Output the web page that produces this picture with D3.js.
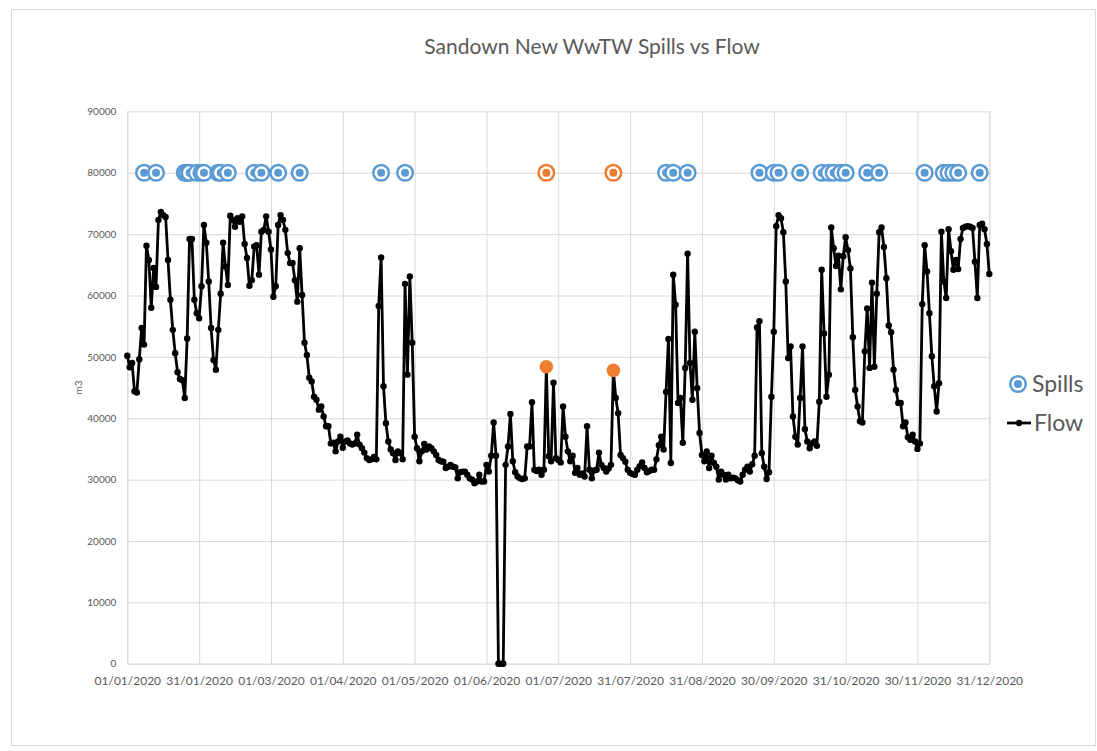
<!DOCTYPE html>
<html>
<head>
<meta charset="utf-8">
<script src="https://cdn.jsdelivr.net/npm/d3@7"></script>
<style>
  html, body { margin: 0; padding: 0; background: #fff; }
  svg { display: block; font-family: Lato, "Open Sans", sans-serif; }
</style>
</head>
<body>
<svg id="chart" width="1097" height="751"></svg>
<script>
// Daily flow at Sandown New WwTW (m3), one value per recorded day
const flow = [
  50200, 48300, 49000, 44400, 44200, 49600, 54700, 52000, 68100, 65800,
  58000, 64500, 61400, 72300, 73600, 73100, 72800, 65800, 59300, 54400,
  50600, 47500, 46400, 46200, 43300, 53000, 69200, 69200, 59300, 57100,
  56300, 61500, 71500, 68600, 62300, 54700, 49500, 47900, 54400, 60300,
  68600, 64700, 61700, 73000, 72300, 71200, 72600, 72000, 72900, 68400,
  66100, 61600, 62500, 68000, 68200, 63400, 70400, 70700, 72900, 70400,
  67500, 59800, 61500, 71500, 73100, 72300, 70700, 66900, 65300, 65300,
  62500, 59000, 67700, 60100, 52300, 50300, 46600, 46000, 43500, 43000,
  41400, 41900, 40300, 38700, 38700, 35900, 36000, 34600, 36200, 37000,
  35200, 36200, 36400, 35900, 35700, 35900, 37300, 35700, 35100, 34400,
  33500, 33200, 33300, 33700, 33300, 58300, 66200, 45200, 39200, 36200,
  34900, 34300, 33200, 34600, 34300, 33300, 61900, 47100, 63100, 52300,
  37000, 35100, 33000, 34600, 35800, 34900, 35400, 35100, 34600, 34000,
  33200, 33000, 32900, 31900, 32100, 32400, 32100, 32000, 30200, 31200,
  31300, 31300, 30800, 30200, 30000, 29400, 29700, 30800, 29700, 29700,
  32400, 31300, 33900, 39300, 33900, 0, 0, 0, 32400, 35400,
  40700, 33000, 31200, 30500, 30200, 30100, 30200, 35400, 35400, 42600,
  31600, 31400, 31600, 30800, 31600, 48400, 33800, 33000, 45800, 33500,
  33200, 32800, 41900, 37000, 34600, 33000, 33900, 31100, 31900, 30800,
  31000, 30500, 38700, 31600, 30200, 31500, 31600, 34400, 32400, 31900,
  31300, 31800, 32400, 47800, 43300, 40800, 34000, 33500, 32900, 31600,
  31100, 30900, 30800, 31600, 32200, 32800, 31900, 31200, 31400, 31600,
  31600, 33300, 35600, 37000, 34900, 44300, 52900, 32700, 63400, 58500,
  42500, 43300, 36000, 48200, 66800, 49000, 43000, 54100, 44900, 37600,
  34000, 33000, 34600, 31900, 33900, 32700, 32100, 30000, 31300, 30800,
  30000, 30800, 30200, 30300, 30200, 29900, 29700, 30800, 31600, 32100,
  31300, 32500, 33900, 54800, 55800, 34300, 32100, 30100, 31200, 43500,
  54100, 71300, 73100, 72600, 70300, 62300, 49800, 51700, 40300, 37000,
  35700, 43300, 51700, 38200, 36200, 35100, 35900, 36200, 35500, 42700,
  64200, 53800, 43500, 47100, 71100, 67700, 64800, 66500, 61000, 66400,
  69500, 67400, 64400, 53200, 44600, 41900, 39500, 39300, 50900, 57900,
  48200, 62100, 48400, 60300, 70300, 71100, 67900, 62800, 55100, 54000,
  47900, 44600, 42500, 42500, 38700, 39300, 36900, 36500, 37300, 36200,
  35000, 35900, 58600, 68200, 63900, 57100, 50100, 45200, 41100, 45700,
  70400, 62300, 59600, 70800, 67200, 64200, 65800, 64300, 69200, 71000,
  71200, 71300, 71200, 71000, 65500, 59600, 71500, 71700, 70800, 68400,
  63500
];

// Date labels shown every 30th recorded day
const dateLabels = [
  "01/01/2020", "31/01/2020", "01/03/2020", "01/04/2020", "01/05/2020",
  "01/06/2020", "01/07/2020", "31/07/2020", "31/08/2020", "30/09/2020",
  "31/10/2020", "30/11/2020", "31/12/2020"
];
const labelStep = 30;

// Days (positions in the flow record) with a spill event
const spillDays = [
  7, 12, 24, 25, 26, 29, 31, 32, 38, 39, 42, 53, 56, 63, 72, 106, 116,
  225, 228, 234, 264, 270, 272, 281, 290, 293, 295, 298, 300, 309, 314,
  333, 341, 343, 345, 347, 356
];
// Spill days picked out in orange, on both series
const flaggedDays = [175, 203];
const spillLevel = 80000;

const yTickValues = [0, 10000, 20000, 30000, 40000, 50000, 60000, 70000, 80000, 90000];

const BLUE = "#5b9bd5";
const ORANGE = "#ed7d31";
const GRID = "#d9d9d9";
const TEXT = "#595959";

const svg = d3.select("#chart");
const plot = { left: 127.3, right: 989.3, top: 111.4, bottom: 663.7 };

// chart frame
svg.append("rect")
  .attr("x", 11.5).attr("y", 9.5)
  .attr("width", 1084).attr("height", 736)
  .attr("fill", "#fff").attr("stroke", GRID).attr("stroke-width", 1);

const lastDay = (dateLabels.length - 1) * labelStep;
const x = d3.scaleLinear().domain([0, lastDay]).range([plot.left, plot.right]);
const y = d3.scaleLinear().domain([0, 90000]).range([plot.bottom, plot.top]);

// y axis with horizontal gridlines
const yAxis = svg.append("g")
  .attr("transform", `translate(${plot.left},0)`)
  .call(d3.axisLeft(y).tickValues(yTickValues).tickFormat(d3.format("d"))
    .tickSize(-(plot.right - plot.left)).tickPadding(11));
yAxis.select(".domain").remove();
yAxis.selectAll(".tick line").attr("stroke", GRID).attr("stroke-width", 1);
yAxis.selectAll(".tick text").attr("fill", TEXT).attr("font-size", 10)
  .attr("font-family", "Lato, sans-serif");

// x axis with vertical gridlines
const xTickValues = d3.range(0, lastDay + 1, labelStep);
const xAxis = svg.append("g")
  .attr("transform", `translate(0,${plot.bottom})`)
  .call(d3.axisBottom(x).tickValues(xTickValues)
    .tickFormat((d, i) => dateLabels[i])
    .tickSize(-(plot.bottom - plot.top)).tickPadding(13));
xAxis.select(".domain").attr("stroke", GRID);
xAxis.selectAll(".tick line").attr("stroke", GRID).attr("stroke-width", 1);
xAxis.selectAll(".tick text").attr("fill", TEXT).attr("font-size", 12)
  .attr("font-family", "Lato, sans-serif");

// y axis title
svg.append("text")
  .attr("transform", `translate(82,${(plot.top + plot.bottom) / 2}) rotate(-90)`)
  .attr("text-anchor", "middle").attr("font-size", 10).attr("fill", TEXT)
  .text("m3");

// chart title
svg.append("text")
  .attr("x", 592).attr("y", 54).attr("text-anchor", "middle")
  .attr("font-size", 21).attr("fill", TEXT)
  .text("Sandown New WwTW Spills vs Flow");

// flow line and markers
const line = d3.line().x((d, i) => x(i)).y(d => y(d));
svg.append("path").datum(flow)
  .attr("fill", "none").attr("stroke", "#000").attr("stroke-width", 2.8)
  .attr("stroke-linejoin", "round").attr("d", line);
svg.append("g").selectAll("circle").data(flow).join("circle")
  .attr("cx", (d, i) => x(i)).attr("cy", d => y(d)).attr("r", 3.2).attr("fill", "#000");

// highlighted flow points
svg.append("g").selectAll("circle").data(flaggedDays).join("circle")
  .attr("cx", d => x(d)).attr("cy", d => y(flow[d])).attr("r", 6.8).attr("fill", ORANGE);

// ring marker used for spills
function ring(g, color) {
  g.append("circle").attr("r", 7.8).attr("fill", "#fff")
    .attr("stroke", color).attr("stroke-width", 2.5);
  g.append("circle").attr("r", 4).attr("fill", color);
}

svg.append("g").selectAll("g").data(spillDays).join("g")
  .attr("transform", d => `translate(${x(d)},${y(spillLevel)})`)
  .each(function () { ring(d3.select(this), BLUE); });
svg.append("g").selectAll("g").data(flaggedDays).join("g")
  .attr("transform", d => `translate(${x(d)},${y(spillLevel)})`)
  .each(function () { ring(d3.select(this), ORANGE); });

// legend
const legend = svg.append("g");
ring(legend.append("g").attr("transform", "translate(1018,384)"), BLUE);
legend.append("text").attr("x", 1032).attr("y", 392)
  .attr("font-size", 23).attr("fill", TEXT).text("Spills");
legend.append("line").attr("x1", 1007).attr("x2", 1031).attr("y1", 423).attr("y2", 423)
  .attr("stroke", "#000").attr("stroke-width", 2.8);
legend.append("circle").attr("cx", 1019).attr("cy", 423).attr("r", 3.2).attr("fill", "#000");
legend.append("text").attr("x", 1034).attr("y", 431)
  .attr("font-size", 23).attr("fill", TEXT).text("Flow");
</script>
</body>
</html>
